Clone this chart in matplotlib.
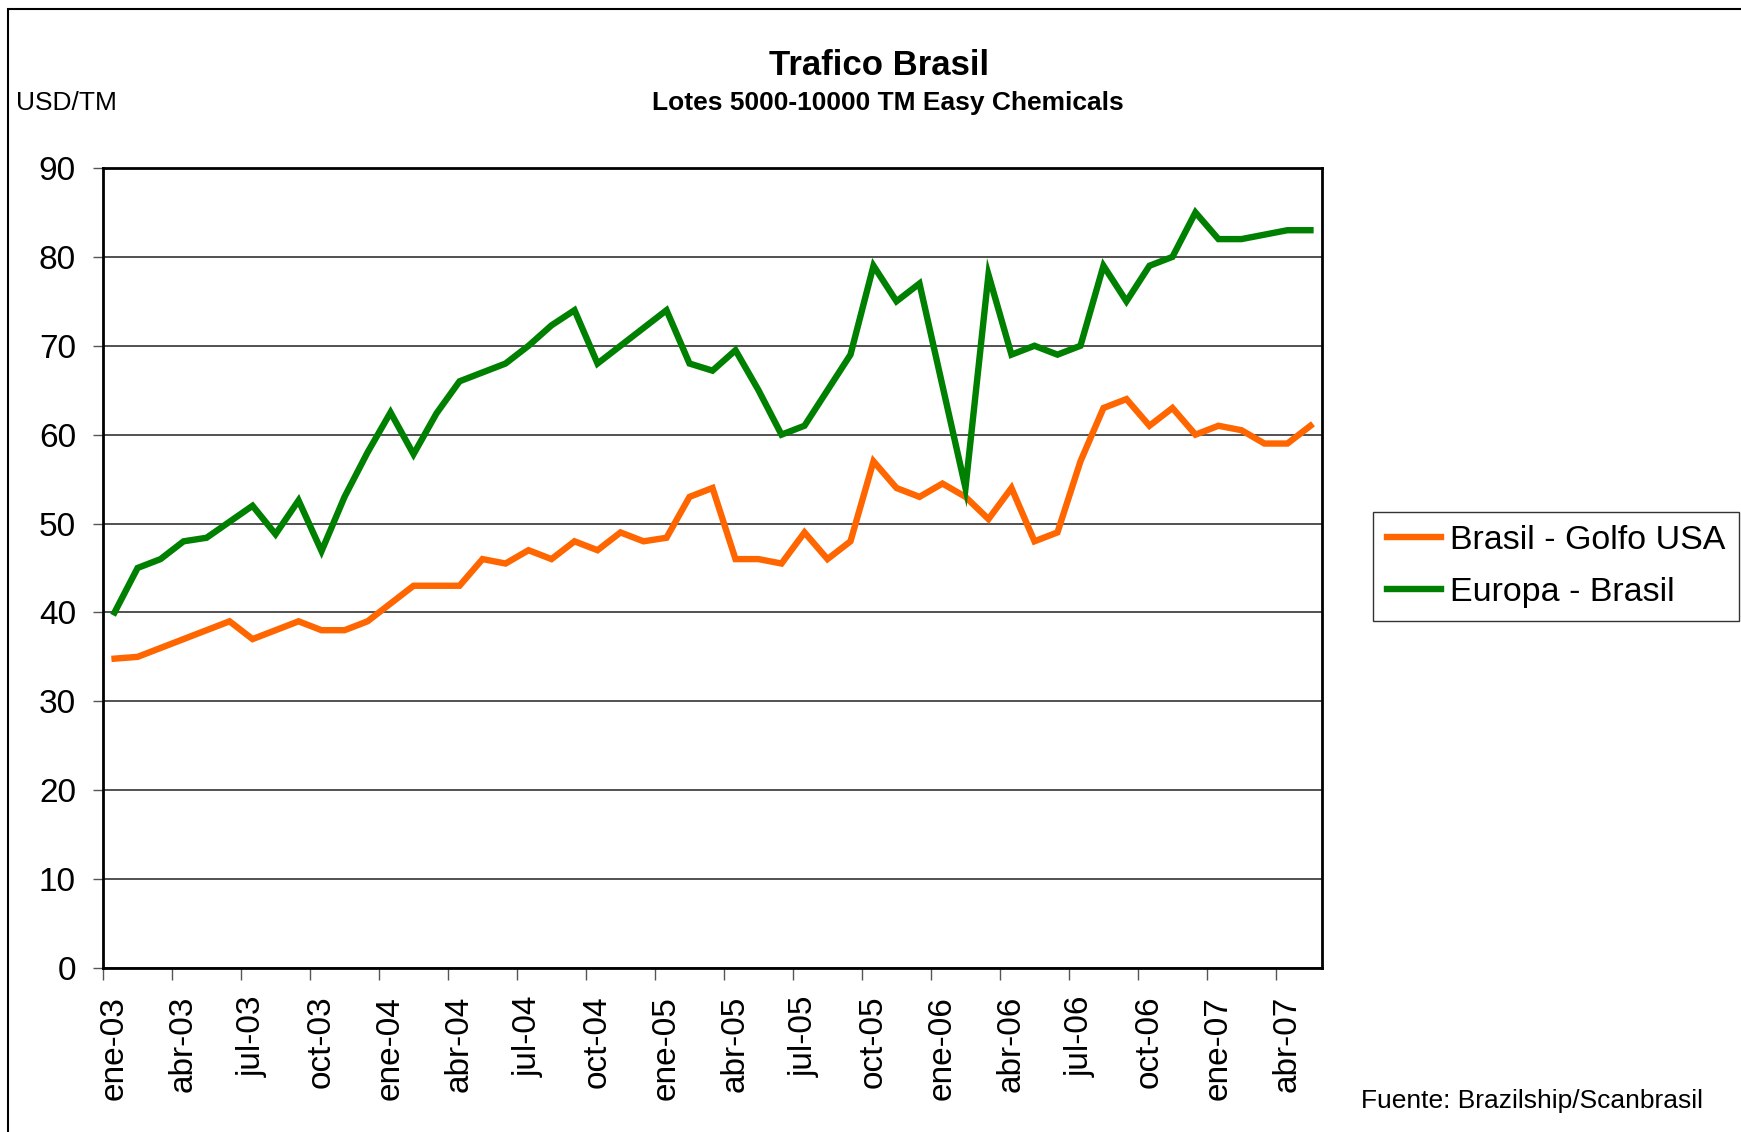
import matplotlib
matplotlib.use("Agg")
from matplotlib import pyplot as plt
from matplotlib.patches import Rectangle

plt.rcParams['font.family'] = ['Liberation Sans', 'DejaVu Sans']

# months ene-03 .. may-07
meses = ['ene', 'feb', 'mar', 'abr', 'may', 'jun', 'jul', 'ago', 'sep', 'oct', 'nov', 'dic']
n_meses = 53

brasil_golfo = [34.8, 35, 36, 37, 38, 39, 37, 38, 39, 38, 38, 39,
                41, 43, 43, 43, 46, 45.5, 47, 46, 48, 47, 49, 48,
                48.4, 53, 54, 46, 46, 45.5, 49, 46, 48, 57, 54, 53,
                54.5, 53, 50.5, 54, 48, 49, 57, 63, 64, 61, 63, 60,
                61, 60.5, 59, 59, 61]

europa_brasil = [40, 45, 46, 48, 48.4, 50.2, 52, 48.8, 52.6, 46.9, 53, 58,
                 62.5, 57.8, 62.4, 66, 67, 68, 70, 72.3, 74, 68, 70, 72,
                 74, 68, 67.2, 69.5, 65, 60, 61, 65, 69, 79, 75, 77,
                 65.5, 54, 78, 69, 70, 69, 70, 79, 75, 79, 80, 85,
                 82, 82, 82.5, 83, 83]

etiquetas = []
for i in range(0, n_meses, 3):
    etiquetas.append(meses[i % 12] + "-0" + str(3 + i // 12))

x = list(range(n_meses))

fig = plt.figure(figsize=(17.41, 11.32), dpi=100)
ax = fig.add_axes([0.0592, 0.1449, 0.7001, 0.7067])

ax.plot(x, brasil_golfo, color='#FF6600', lw=4.6, label='Brasil - Golfo USA',
        solid_joinstyle='miter')
ax.plot(x, europa_brasil, color='#008000', lw=4.6, label='Europa - Brasil',
        solid_joinstyle='miter')

ax.set_xlim(-0.5, n_meses - 0.5)
ax.set_ylim(0, 90)
ax.set_yticks(range(0, 91, 10))
ax.grid(axis='y', color='#222222', lw=1.1)
ax.set_axisbelow(True)

# ticks between months, labels centred on the month
ax.set_xticks([i - 0.5 for i in range(0, n_meses, 3)])
ax.set_xticklabels([])
ax.set_xticks(list(range(0, n_meses, 3)), minor=True)
ax.set_xticklabels(etiquetas, minor=True, rotation=90, fontsize=24)
ax.tick_params(axis='x', which='major', length=8.5, width=1, color='#555555', direction='out')
ax.tick_params(axis='x', which='minor', length=0, pad=20)
ax.tick_params(axis='y', length=7.5, width=1, color='#555555', labelsize=24, pad=12)

for s in ax.spines.values():
    s.set_linewidth(2)
    s.set_color('black')

leg = ax.legend(loc='center left', bbox_to_anchor=(1.042, 0.502), fontsize=24.5,
                frameon=True, fancybox=False, handlelength=1.6, handletextpad=0.25,
                borderpad=0.4, labelspacing=0.6, borderaxespad=0)
leg.get_frame().set_edgecolor('black')
leg.get_frame().set_linewidth(1)

fig.text(0.505, 0.942, 'Trafico Brasil', ha='center', va='center',
         fontsize=25, fontweight='bold')
fig.text(0.51, 0.909, 'Lotes 5000-10000 TM Easy Chemicals', ha='center', va='center',
         fontsize=19, fontweight='bold')
fig.text(0.009, 0.909, 'USD/TM', ha='left', va='center', fontsize=19)
fig.text(0.782, 0.027, 'Fuente: Brazilship/Scanbrasil', ha='left', va='center', fontsize=19)

# outer chart border (right and bottom run off the picture)
fig.patches.append(Rectangle((0.0046, -0.1), 1.2, 1.092, transform=fig.transFigure,
                             fill=False, edgecolor='black', lw=1.5))

fig.savefig('out.png', dpi=100)
